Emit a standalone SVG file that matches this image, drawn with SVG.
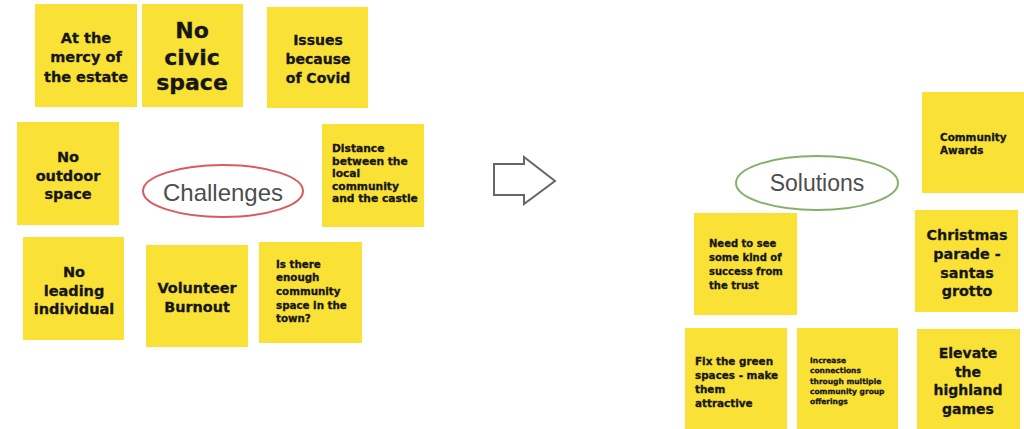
<svg xmlns="http://www.w3.org/2000/svg" width="1024" height="429" viewBox="0 0 1024 429">
<style>
.note{fill:#F9E136;}
.t{font-family:"DejaVu Sans","Liberation Sans",sans-serif;font-weight:bold;fill:#161616;stroke:#161616;stroke-width:0.3;}
.c{text-anchor:middle;}
.lbl{font-family:"Liberation Sans",Arial,sans-serif;fill:#4d4d4d;text-anchor:middle;}
</style>
<rect width="1024" height="429" fill="#fff"/>
<g id="challenges">
<ellipse cx="223" cy="191" rx="80" ry="26" fill="#fff" stroke="#D95B5E" stroke-width="2"/>
<text class="lbl" x="223" y="201" font-size="24">Challenges</text>
</g>
<g id="n-mercy"><rect class="note" x="35" y="4" width="102" height="103"/>
<text class="t c" font-size="14.5" x="86" y="43">At the</text><text class="t c" font-size="14.5" x="86" y="62">mercy of</text><text class="t c" font-size="14.5" x="86" y="82">the estate</text></g>
<g id="n-civic"><rect class="note" x="142" y="4" width="101" height="103"/>
<text class="t c" font-size="22" x="192" y="38">No</text><text class="t c" font-size="22" x="192" y="65">civic</text><text class="t c" font-size="22" x="192" y="90">space</text></g>
<g id="n-covid"><rect class="note" x="267" y="7" width="101" height="101"/>
<text class="t c" font-size="14" x="318" y="45">Issues</text><text class="t c" font-size="14" x="318" y="64">because</text><text class="t c" font-size="14" x="318" y="83">of Covid</text></g>
<g id="n-outdoor"><rect class="note" x="17" y="122" width="102" height="103"/>
<text class="t c" font-size="14.5" x="68" y="162">No</text><text class="t c" font-size="14.5" x="68" y="181">outdoor</text><text class="t c" font-size="14.5" x="68" y="199">space</text></g>
<g id="n-distance"><rect class="note" x="322" y="124" width="102" height="103"/>
<text class="t" font-size="10.7" x="332" y="152">Distance</text><text class="t" font-size="10.7" x="332" y="165">between the</text><text class="t" font-size="10.7" x="332" y="177">local</text><text class="t" font-size="10.7" x="332" y="190">community</text><text class="t" font-size="10.7" x="332" y="202">and the castle</text></g>
<g id="n-leading"><rect class="note" x="23" y="237" width="101" height="103"/>
<text class="t c" font-size="14.5" x="74" y="277">No</text><text class="t c" font-size="14.5" x="74" y="296">leading</text><text class="t c" font-size="14.5" x="74" y="314">individual</text></g>
<g id="n-burnout"><rect class="note" x="146" y="245" width="102" height="102"/>
<text class="t c" font-size="14.4" x="197" y="293">Volunteer</text><text class="t c" font-size="14.4" x="197" y="312">Burnout</text></g>
<g id="n-space"><rect class="note" x="259" y="242" width="103" height="101"/>
<text class="t" font-size="10.3" x="276" y="268">Is there</text><text class="t" font-size="10.3" x="276" y="281">enough</text><text class="t" font-size="10.3" x="276" y="295">community</text><text class="t" font-size="10.3" x="276" y="309">space in the</text><text class="t" font-size="10.3" x="276" y="322">town?</text></g>
<g id="connectors">
<path d="M494,164 H524 V157 L555,181 L524,204 V195 H494 Z" fill="#fff" stroke="#666" stroke-width="2" stroke-linejoin="miter"/>
</g>
<g id="solutions">
<ellipse cx="817" cy="183" rx="81" ry="27" fill="#fff" stroke="#86B06A" stroke-width="2"/>
<text class="lbl" x="817" y="191" font-size="23">Solutions</text>
</g>
<g id="n-awards"><rect class="note" x="922" y="92" width="102" height="101"/>
<text class="t" font-size="10.4" x="940" y="141">Community</text><text class="t" font-size="10.4" x="940" y="154">Awards</text></g>
<g id="n-success"><rect class="note" x="694" y="213" width="103" height="102"/>
<text class="t" font-size="10" x="709" y="247">Need to see</text><text class="t" font-size="10" x="709" y="261">some kind of</text><text class="t" font-size="10" x="709" y="275">success from</text><text class="t" font-size="10" x="709" y="289">the trust</text></g>
<g id="n-christmas"><rect class="note" x="915" y="210" width="103" height="102"/>
<text class="t c" font-size="14.3" x="967" y="240">Christmas</text><text class="t c" font-size="14.3" x="967" y="259">parade -</text><text class="t c" font-size="14.3" x="967" y="278">santas</text><text class="t c" font-size="14.3" x="967" y="296">grotto</text></g>
<g id="n-green"><rect class="note" x="685" y="328" width="102" height="105"/>
<text class="t" font-size="10.4" x="695" y="365">Fix the green</text><text class="t" font-size="10.4" x="695" y="379">spaces - make</text><text class="t" font-size="10.4" x="695" y="393">them</text><text class="t" font-size="10.4" x="695" y="407">attractive</text></g>
<g id="n-connections"><rect class="note" x="797" y="328" width="101" height="105"/>
<text class="t" font-size="7.5" x="810" y="363">Increase</text><text class="t" font-size="7.5" x="810" y="373">connections</text><text class="t" font-size="7.5" x="810" y="384">through multiple</text><text class="t" font-size="7.5" x="810" y="394">community group</text><text class="t" font-size="7.5" x="810" y="404">offerings</text></g>
<g id="n-highland"><rect class="note" x="917" y="329" width="103" height="104"/>
<text class="t c" font-size="14" x="968" y="358">Elevate</text><text class="t c" font-size="14" x="968" y="377">the</text><text class="t c" font-size="14" x="968" y="395">highland</text><text class="t c" font-size="14" x="968" y="414">games</text></g>
</svg>
